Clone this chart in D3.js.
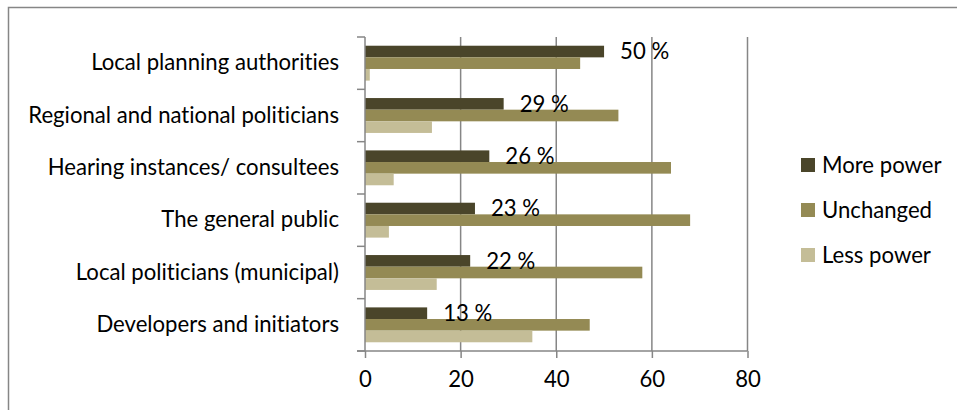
<!DOCTYPE html>
<html>
<head>
<meta charset="utf-8">
<script src="https://cdn.jsdelivr.net/npm/d3@7"></script>
<style>
  html, body { margin: 0; padding: 0; background: #fff; }
  svg { display: block; }
  svg text { font-variant-ligatures: none; font-feature-settings: "liga" 0, "clig" 0; }
</style>
</head>
<body>
<svg id="chart" width="957" height="410"></svg>
<script>
// ---- data ----
const categories = [
  "Local planning authorities",
  "Regional and national politicians",
  "Hearing instances/ consultees",
  "The general public",
  "Local politicians (municipal)",
  "Developers and initiators"
];
const seriesNames = ["More power", "Unchanged", "Less power"];
const morePower = [50, 29, 26, 23, 22, 13];
const unchanged = [45, 53, 64, 68, 58, 47];
const lessPower = [1, 14, 6, 5, 15, 35];
const xTicks = [0, 20, 40, 60, 80];
const colors = ["#4A452A", "#948A54", "#C4BD97"];

const seriesValues = [morePower, unchanged, lessPower];

// ---- layout ----
const svg = d3.select("#chart");
const W = 957, H = 410;
const fontFamily = "Lato, 'Open Sans', 'DejaVu Sans', sans-serif";
const gridColor = "#868686";

// fit font size so the label matches the reference width
const probe = svg.append("text").attr("font-family", fontFamily).attr("font-size", 100)
  .text("Local planning authorities");
const probeW = probe.node().getComputedTextLength();
probe.remove();
const fs = Math.min(24, Math.max(14, 100 * 248 / probeW));

const plot = { left: 365, right: 747.5, top: 37, bottom: 351 };

const x = d3.scaleLinear().domain([0, 80]).range([plot.left, plot.right]);
const y0 = d3.scaleBand().domain(categories).range([plot.top, plot.bottom]).paddingInner(0).paddingOuter(0);
const y1 = d3.scaleBand().domain(seriesNames).range([0, y0.bandwidth()]).paddingInner(0).paddingOuter(0.75);

// outer chart border (only top and left visible in the reference)
svg.append("rect")
  .attr("x", 8.5).attr("y", 7.5).attr("width", W + 20).attr("height", H + 20)
  .attr("fill", "none").attr("stroke", gridColor).attr("stroke-width", 1.5);

// vertical gridlines
svg.append("g").selectAll("line").data(xTicks.filter(d => d > 0)).join("line")
  .attr("x1", d => x(d)).attr("x2", d => x(d))
  .attr("y1", plot.top).attr("y2", plot.bottom)
  .attr("stroke", gridColor).attr("stroke-width", 1.5);

// bars
const groups = svg.append("g").selectAll("g").data(categories).join("g")
  .attr("transform", d => `translate(0,${y0(d)})`);
groups.selectAll("rect")
  .data((c, i) => seriesNames.map((s, j) => ({ s, v: seriesValues[j][i], j })))
  .join("rect")
  .attr("x", x(0))
  .attr("y", d => y1(d.s))
  .attr("width", d => x(d.v) - x(0))
  .attr("height", y1.bandwidth())
  .attr("fill", d => colors[d.j]);

// x axis (bottom)
const xAxis = d3.axisBottom(x).tickValues(xTicks).tickSize(7).tickPadding(13).tickFormat(d3.format("d"));
const gx = svg.append("g").attr("transform", `translate(0,${plot.bottom})`).call(xAxis);
gx.select(".domain").attr("stroke", gridColor).attr("stroke-width", 1.5)
  .attr("d", `M${plot.left - 8},0H${plot.right}`);
gx.selectAll(".tick line").attr("stroke", gridColor).attr("stroke-width", 1.5);
gx.selectAll(".tick text").attr("font-family", fontFamily).attr("font-size", fs).attr("fill", "#000");

// y axis (category) : line + boundary ticks + labels
const yAxis = d3.axisLeft(y0).tickSize(0).tickPadding(26);
const gy = svg.append("g").attr("transform", `translate(${plot.left},0)`).call(yAxis);
gy.select(".domain").attr("stroke", gridColor).attr("stroke-width", 1.5)
  .attr("d", `M0,${plot.top}V${plot.bottom}`);
gy.selectAll(".tick text").attr("font-family", fontFamily).attr("font-size", fs).attr("fill", "#000");
const boundaries = d3.range(categories.length + 1);
const yb = d3.scaleLinear().domain([0, categories.length]).range([plot.top, plot.bottom]);
gy.append("g").selectAll("line").data(boundaries).join("line")
  .attr("x1", -8).attr("x2", 0)
  .attr("y1", d => yb(d)).attr("y2", d => yb(d))
  .attr("stroke", gridColor).attr("stroke-width", 1.5);

// data labels for "More power"
svg.append("g").selectAll("text").data(categories).join("text")
  .attr("x", (c, i) => x(morePower[i]) + 16)
  .attr("y", c => y0(c) + y1(seriesNames[0]) + y1.bandwidth() + 2)
  .attr("font-family", fontFamily).attr("font-size", fs).attr("fill", "#000")
  .text((c, i) => `${morePower[i]} %`);

// legend
const legendY = [165, 210, 255];
const lg = svg.append("g").selectAll("g").data(seriesNames).join("g")
  .attr("transform", (d, i) => `translate(801,${legendY[i]})`);
lg.append("rect").attr("x", 0).attr("y", -7).attr("width", 14).attr("height", 14)
  .attr("fill", (d, i) => colors[i]);
lg.append("text").attr("x", 21).attr("y", 0).attr("dy", "0.35em")
  .attr("font-family", fontFamily).attr("font-size", fs).attr("fill", "#000")
  .text(d => d);
</script>
</body>
</html>
